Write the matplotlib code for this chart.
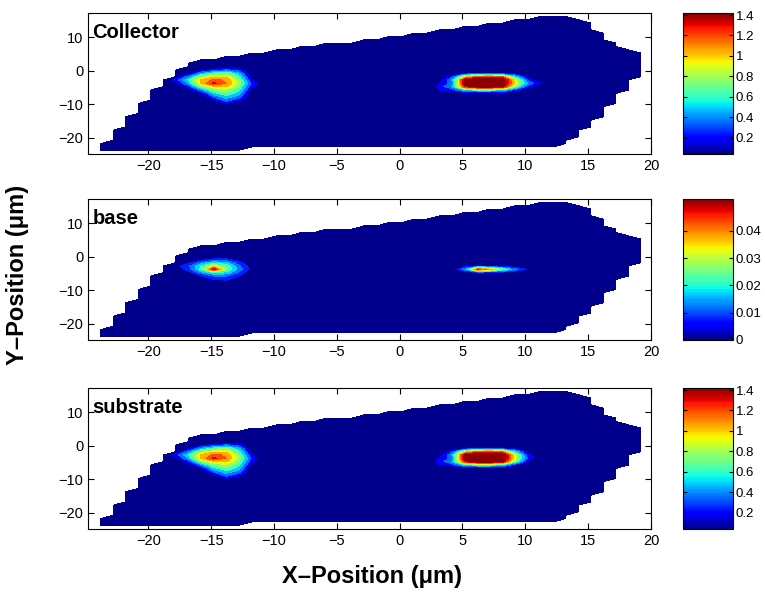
import numpy as np
import matplotlib.pyplot as plt
from matplotlib import colors
from matplotlib.ticker import FuncFormatter

plt.rcParams['font.family'] = ['Liberation Sans', 'DejaVu Sans']

# mesh nodes (um)
x_nodes = np.arange(44) - 23.8
y_nodes = np.arange(41) - 23.7

# upper / lower y of the device for every mesh column
col_top = [-21.7, -17.7, -13.7, -9.7, -5.7, -2.7, 0.3, 2.3, 3.3, 3.3,
           4.3, 4.3, 5.3, 5.3, 6.3, 6.3, 7.3, 7.3, 8.3, 8.3,
           8.3, 9.3, 9.3, 10.3, 10.3, 11.3, 11.3, 12.3, 12.3, 13.3,
           13.3, 14.3, 14.3, 15.3, 15.3, 16.3, 16.3, 16.3, 15.3, 14.3,
           11.3, 8.3, 6.3, 5.3]
col_bottom = [-23.7] * 12 + [-22.7] * 25 + [-21.7, -19.7, -16.7, -13.7, -9.7, -5.7, -1.7]

# hot spots: (x of first column, y of first row, rows from top to bottom)
collector_left = (-17.8, 0.3, [
    [0, 0, 0.08, 0.2, 0.3, 0.2, 0],
    [0, 0.08, 0.4, 0.6, 0.7, 0.45, 0],
    [0.08, 0.35, 0.75, 0.95, 0.95, 0.6, 0.08],
    [0.2, 0.55, 1.0, 1.15, 1.1, 0.75, 0.15],
    [0.1, 0.45, 1.0, 1.3, 1.12, 0.8, 0.25],
    [0, 0.2, 0.7, 0.95, 1.0, 0.7, 0.18],
    [0, 0.03, 0.35, 0.7, 0.8, 0.6, 0.08],
    [0, 0, 0.1, 0.5, 0.68, 0.48, 0],
    [0, 0, 0, 0.3, 0.5, 0.35, 0],
    [0, 0, 0, 0.1, 0.35, 0.18, 0],
    [0, 0, 0, 0, 0.15, 0.02, 0]])
collector_right = (3.2, -0.7, [
    [0, 0, 0.1, 0.15, 0.15, 0.12, 0.05, 0, 0],
    [0, 0.25, 0.9, 1.15, 1.2, 1.1, 0.5, 0.1, 0],
    [0.05, 0.45, 1.45, 1.6, 1.6, 1.55, 0.9, 0.25, 0],
    [0.15, 0.35, 1.5, 1.65, 1.65, 1.55, 0.95, 0.4, 0.15],
    [0.2, 0.45, 1.3, 1.5, 1.5, 1.4, 0.7, 0.2, 0],
    [0.15, 0.2, 0.5, 0.6, 0.6, 0.5, 0.2, 0.02, 0]])

base_left = (-17.8, -0.7, [
    [0, 0, 0.002, 0.006, 0.006, 0.002, 0],
    [0, 0.004, 0.012, 0.018, 0.016, 0.007, 0],
    [0.003, 0.009, 0.020, 0.032, 0.024, 0.011, 0.002],
    [0.002, 0.007, 0.022, 0.050, 0.026, 0.013, 0.003],
    [0, 0.003, 0.012, 0.020, 0.018, 0.009, 0],
    [0, 0, 0.005, 0.010, 0.010, 0.005, 0],
    [0, 0, 0, 0.005, 0.006, 0.002, 0],
    [0, 0, 0, 0, 0.002, 0, 0]])
base_right = (4.2, -2.7, [
    [0, 0.003, 0.005, 0.003, 0.002, 0.001, 0],
    [0, 0.014, 0.046, 0.038, 0.024, 0.012, 0.004],
    [0, 0, 0.002, 0.002, 0.001, 0, 0]])

substrate_left = (-17.8, 0.3, [
    [0, 0, 0.08, 0.2, 0.3, 0.2, 0],
    [0, 0.08, 0.4, 0.6, 0.7, 0.45, 0],
    [0.08, 0.35, 0.75, 0.95, 0.95, 0.6, 0.08],
    [0.2, 0.55, 1.0, 1.15, 1.1, 0.75, 0.15],
    [0.1, 0.45, 1.0, 1.3, 1.12, 0.8, 0.25],
    [0, 0.2, 0.7, 0.95, 1.0, 0.7, 0.18],
    [0, 0.03, 0.35, 0.7, 0.8, 0.6, 0.08],
    [0, 0, 0.1, 0.5, 0.68, 0.48, 0],
    [0, 0, 0, 0.3, 0.5, 0.35, 0],
    [0, 0, 0, 0.1, 0.35, 0.18, 0],
    [0, 0, 0, 0, 0.15, 0.02, 0]])
substrate_right = (3.2, -0.7, [
    [0, 0, 0.1, 0.15, 0.15, 0.12, 0.05, 0, 0],
    [0, 0.25, 0.9, 1.15, 1.2, 1.1, 0.5, 0.08, 0],
    [0.05, 0.45, 1.45, 1.6, 1.6, 1.55, 0.85, 0.2, 0],
    [0.15, 0.35, 1.5, 1.65, 1.65, 1.55, 0.9, 0.25, 0],
    [0.2, 0.45, 1.3, 1.5, 1.5, 1.4, 0.65, 0.12, 0],
    [0.15, 0.2, 0.5, 0.6, 0.6, 0.5, 0.15, 0, 0]])

panel_names = ['Collector', 'base', 'substrate']
panel_spots = [[collector_left, collector_right],
               [base_left, base_right],
               [substrate_left, substrate_right]]
panel_clim = [(0.04, 1.42), (0.0, 0.0516), (0.04, 1.42)]
panel_levels = [np.linspace(0.14, 1.4, 10), np.linspace(0.005, 0.05, 10),
                np.linspace(0.14, 1.4, 10)]
panel_cticks = [[0.2, 0.4, 0.6, 0.8, 1, 1.2, 1.4],
                [0, 0.01, 0.02, 0.03, 0.04],
                [0.2, 0.4, 0.6, 0.8, 1, 1.2, 1.4]]

jet = colors.ListedColormap(plt.cm.jet(np.linspace(0.015, 0.985, 64)))

X, Y = np.meshgrid(x_nodes, y_nodes)
inside = (Y <= np.array(col_top) + 1e-6) & (Y >= np.array(col_bottom) - 1e-6)


def build_field(spots):
    z = np.zeros_like(X)
    for x0, y0, block in spots:
        i0 = int(round(x0 - x_nodes[0]))
        j0 = int(round(y0 - y_nodes[0]))
        for r, row in enumerate(block):
            z[j0 - r, i0:i0 + len(row)] = np.maximum(z[j0 - r, i0:i0 + len(row)], row)
    return np.ma.masked_where(~inside, z)


fig = plt.figure(figsize=(7.65, 5.92), dpi=100)
tops = [13, 199, 388]
ax_h = 141 / 592.0
for k in range(3):
    bottom = 1 - tops[k] / 592.0 - ax_h
    ax = fig.add_axes([88 / 765.0, bottom, 563 / 765.0, ax_h])
    norm = colors.Normalize(*panel_clim[k])
    z = build_field(panel_spots[k])
    ax.contourf(X, Y, z, levels=panel_levels[k], cmap=jet, norm=norm, extend='both')
    ax.set_xlim(-24.8, 20)
    ax.set_ylim(-24.8, 17.3)
    ax.set_xticks(range(-20, 21, 5))
    ax.set_yticks([-20, -10, 0, 10])
    ax.tick_params(direction='in', top=True, right=True, labelsize=10.5, length=4)
    ax.text(0.008, 0.93, panel_names[k], transform=ax.transAxes, fontsize=14.5,
            fontweight='bold', va='top', ha='left')

    cax = fig.add_axes([683 / 765.0, bottom, 50 / 765.0, ax_h])
    sm = plt.cm.ScalarMappable(norm=norm, cmap=jet)
    cb = fig.colorbar(sm, cax=cax, ticks=panel_cticks[k])
    cb.ax.yaxis.set_major_formatter(FuncFormatter(lambda v, p: '%g' % v))
    cb.ax.tick_params(direction='in', labelsize=9.5, length=3, left=True, pad=2)
    cb.outline.set_linewidth(0.8)

fig.text(372 / 765.0, 1 - 577 / 592.0, 'X\u2013Position (\u03bcm)', fontsize=17,
         fontweight='bold', ha='center', va='center')
fig.text(18 / 765.0, 1 - 275 / 592.0, 'Y\u2013Position (\u03bcm)', fontsize=17,
         fontweight='bold', ha='center', va='center', rotation=90)

fig.savefig('out.png', dpi=100)
